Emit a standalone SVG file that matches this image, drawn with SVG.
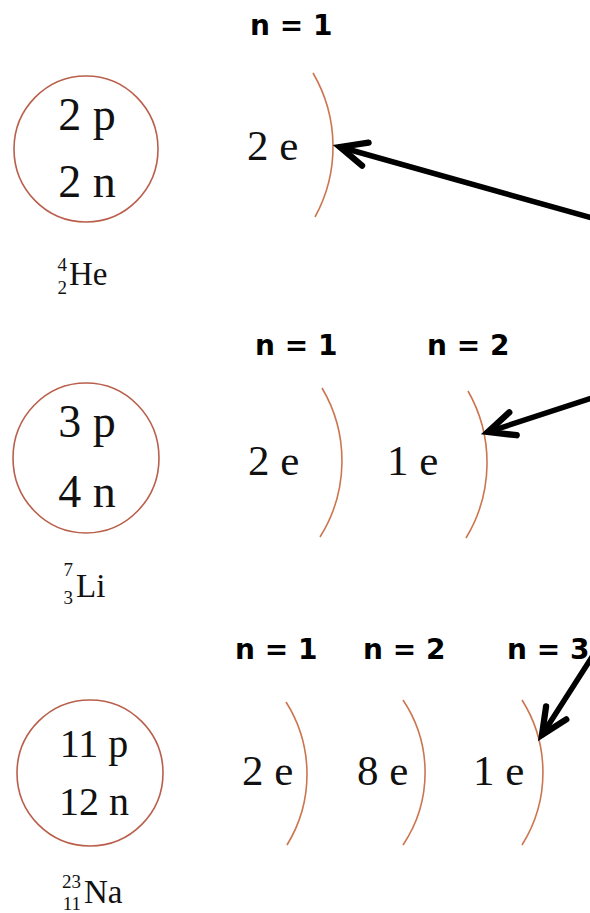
<svg xmlns="http://www.w3.org/2000/svg" width="590" height="913" viewBox="0 0 590 913">
<style>
.bg{fill:#ffffff}
.nuc{fill:none;stroke:#b9604c;stroke-width:1.6}
.shell{fill:none;stroke:#cc7650;stroke-width:1.6}
.big{font-family:"Liberation Serif","Times New Roman",serif;fill:#111;font-size:46px}
.el{font-family:"Liberation Serif","Times New Roman",serif;fill:#111;font-size:43px}
.na{font-family:"Liberation Serif","Times New Roman",serif;fill:#111;font-size:40px}
.sym{font-family:"Liberation Serif","Times New Roman",serif;fill:#111;font-size:33px}
.sm{font-family:"Liberation Serif","Times New Roman",serif;fill:#111;font-size:19px;text-anchor:end}
.lbl{font-family:"DejaVu Sans",Verdana,sans-serif;font-weight:bold;fill:#000;font-size:28px}
.arr{fill:none;stroke:#000;stroke-width:5.5;stroke-linecap:round}
</style>
<defs>
<marker id="head" markerUnits="userSpaceOnUse" orient="auto" refX="0" refY="0" markerWidth="40" markerHeight="40" viewBox="-30 -15 35 30" overflow="visible">
<path d="M -23,-10.5 L 0,0 L -23,10.5" fill="none" stroke="#000" stroke-width="5.5" stroke-linecap="round" stroke-linejoin="miter"/>
</marker>
</defs>
<rect class="bg" x="0" y="0" width="590" height="913"/>

<g id="he">
<ellipse class="nuc" cx="86" cy="149" rx="72" ry="73"/>
<text class="big" x="87" y="130" text-anchor="middle">2 p</text>
<text class="big" x="87" y="197" text-anchor="middle">2 n</text>
<text class="sm" x="67" y="271">4</text>
<text class="sm" x="67" y="294">2</text>
<text class="sym" x="69" y="285">He</text>
</g>
<g id="he-n1">
<text class="lbl" x="250" y="35">n = 1</text>
<path class="shell" d="M 313,73 A 146,146 0 0 1 315,217"/>
<text class="el" x="247" y="160">2 e</text>
</g>

<g id="li">
<ellipse class="nuc" cx="86" cy="458" rx="73" ry="75"/>
<text class="big" x="87" y="437" text-anchor="middle">3 p</text>
<text class="big" x="87" y="507" text-anchor="middle">4 n</text>
<text class="sm" x="73" y="576">7</text>
<text class="sm" x="73" y="604">3</text>
<text class="sym" x="76" y="597">Li</text>
</g>
<g id="li-n1">
<text class="lbl" x="255" y="355">n = 1</text>
<path class="shell" d="M 322,388 A 143,143 0 0 1 320,537"/>
<text class="el" x="248" y="475">2 e</text>
</g>
<g id="li-n2">
<text class="lbl" x="427" y="355">n = 2</text>
<path class="shell" d="M 468,391 A 145,145 0 0 1 466,538"/>
<text class="el" x="387" y="475">1 e</text>
</g>

<g id="na">
<ellipse class="nuc" cx="90" cy="773" rx="73" ry="73"/>
<text class="na" x="94" y="757" text-anchor="middle">11 p</text>
<text class="na" x="94" y="815" text-anchor="middle">12 n</text>
<text class="sm" x="81" y="888">23</text>
<text class="sm" x="81" y="910">11</text>
<text class="sym" x="84" y="903">Na</text>
</g>
<g id="na-n1">
<text class="lbl" x="235" y="659">n = 1</text>
<path class="shell" d="M 286,702 A 135,135 0 0 1 287,845"/>
<text class="el" x="242" y="785">2 e</text>
</g>
<g id="na-n2">
<text class="lbl" x="363" y="659">n = 2</text>
<path class="shell" d="M 403,700 A 130,130 0 0 1 403,845"/>
<text class="el" x="357" y="785">8 e</text>
</g>
<g id="na-n3">
<text class="lbl" x="507" y="659">n = 3</text>
<path class="shell" d="M 522,700 A 136,136 0 0 1 522,845"/>
<text class="el" x="473" y="785">1 e</text>
</g>

<g id="connectors">
<line class="arr" x1="592" y1="218" x2="340" y2="147" marker-end="url(#head)"/>
<line class="arr" x1="592" y1="398" x2="488" y2="432" marker-end="url(#head)"/>
<line class="arr" x1="592" y1="657" x2="542" y2="735" marker-end="url(#head)"/>
</g>
</svg>
